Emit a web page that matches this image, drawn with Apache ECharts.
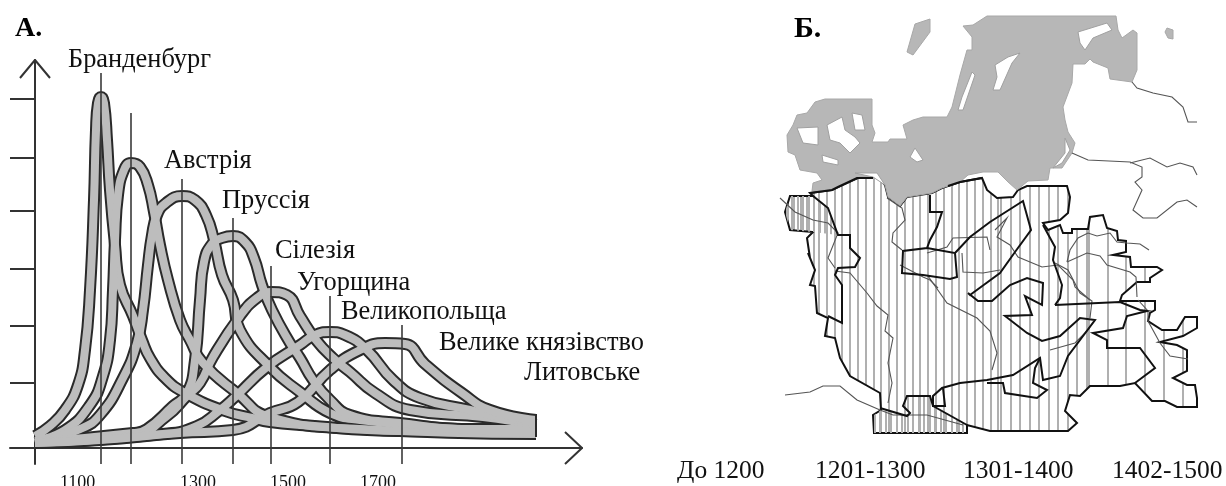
<!DOCTYPE html>
<html><head><meta charset="utf-8">
<style>html,body{margin:0;padding:0;background:#fff}#c{width:1226px;height:486px}</style>
<script src="https://cdn.jsdelivr.net/npm/echarts@6/dist/echarts.min.js"></script>
</head><body><div id="c"></div>
<script>
// ---------- Panel A data (time position, relative level) ----------
const brandenburg=[[0,12],[15,22],[30,38],[43,63],[50,98],[55,158],[59,248],[61,318],[63,345],[66,351],[69,345],[72,308],[75,258],[80,203],[85,163],[98,132],[107,108],[115,90],[130,70],[150,55],[190,37],[217,30],[235,26],[265,23],[365,17],[501,16]];
const austria=[[0,7],[30,18],[55,43],[68,72],[75,108],[78,158],[80,208],[83,253],[89,278],[96,285],[105,281],[113,263],[119,236],[125,203],[133,168],[145,128],[155,108],[168,85],[202,55],[235,31],[325,19],[501,14]];
const prussia=[[0,5],[45,19],[65,33],[88,70],[102,105],[108,138],[113,183],[117,213],[122,233],[131,245],[147,252],[160,248],[171,233],[179,208],[187,173],[198,148],[205,118],[235,81],[265,56],[295,35],[325,28],[435,18],[501,15]];
const silesia=[[0,6],[98,15],[112,19],[138,42],[152,55],[160,88],[165,148],[169,186],[177,204],[187,210],[198,212],[210,206],[219,190],[227,163],[237,138],[255,105],[265,90],[278,68],[295,48],[315,33],[365,25],[435,19],[501,19]];
const hungary=[[0,6],[98,12],[132,32],[152,52],[165,65],[178,91],[205,132],[222,150],[236,156],[252,153],[265,132],[281,108],[298,90],[315,76],[340,55],[375,38],[448,31],[490,25],[501,23]];
const greaterPoland=[[0,5],[128,14],[162,22],[185,38],[200,51],[232,81],[265,103],[280,113],[295,116],[310,113],[332,98],[358,68],[385,50],[435,38],[465,31],[501,26]];
const lithuania=[[0,5],[65,8],[145,15],[198,18],[235,35],[263,46],[295,78],[325,98],[350,105],[370,104],[390,84],[427,55],[455,38],[501,28]];
const curves=[brandenburg,austria,prussia,silesia,hungary,greaterPoland,lithuania];
const peakX=[66,96,147,198,236,295,367];
const peakTop=[375,335,269,230,182,152,123];
const yTicks=[65,122,179,237,290,349];
const xLabels=['1100','1300','1500','1700'];
const xLabelX=[60,180,270,360];
const names=['Бранденбург','Австрія','Пруссія','Сілезія','Угорщина','Великопольща','Велике князівство','Литовське'];
const nameX=[68,164,222,275,297,341,439,524];
const nameY=[60,161,201,251,283,312,343,373];
const legendLabels=['До 1200','1201-1300','1301-1400','1402-1500'];
const legendX=[677,815,963,1112];

// ---------- Panel B map outlines ----------
const seaMain=[[987,16],[1116,16],[1118,30],[1122,38],[1133,30],[1137,33],[1137,70],[1132,82],[1110,79],[1108,68],[1093,62],[1090,59],[1085,64],[1073,64],[1072,83],[1063,107],[1065,120],[1068,132],[1075,143],[1072,153],[1062,168],[1050,168],[1048,180],[1028,181],[1017,190],[1008,182],[998,172],[983,172],[968,175],[960,182],[942,188],[932,193],[907,197],[900,206],[888,197],[885,185],[878,177],[860,177],[838,187],[832,190],[812,191],[813,183],[822,180],[817,173],[800,170],[795,155],[788,152],[787,135],[793,125],[797,115],[807,113],[815,102],[825,99],[872,99],[872,125],[875,133],[872,142],[888,142],[890,139],[907,139],[903,125],[913,120],[923,117],[947,117],[952,107],[960,75],[967,50],[972,50],[972,37],[963,26],[973,25]];
const islandN=[[930,19],[915,24],[907,52],[913,55],[930,32]];
const islandE=[[1167,28],[1173,30],[1173,39],[1168,38],[1165,32]];
const seaHoles=[
 [[1078,32],[1107,23],[1112,30],[1093,38],[1085,50],[1080,43]],
 [[995,65],[1008,57],[1020,53],[1012,63],[1000,90],[993,90],[997,77]],
 [[972,72],[975,75],[963,110],[958,110],[962,97]],
 [[827,125],[842,117],[845,130],[855,137],[860,143],[850,153],[840,143],[830,140]],
 [[797,128],[818,127],[818,145],[803,143]],
 [[852,113],[862,115],[865,130],[855,130]],
 [[822,155],[838,160],[838,165],[823,162]],
 [[910,157],[915,148],[923,160],[917,162]],
 [[1065,138],[1070,150],[1062,163],[1053,168],[1065,153]],
 [[855,173],[877,173],[885,185],[873,177]]
];
const territory=[[790,196],[813,196],[810,193],[832,190],[838,187],[860,177],[878,177],[885,185],[888,197],[900,206],[907,197],[932,193],[942,188],[960,182],[982,178],[987,190],[997,198],[1013,197],[1018,190],[1027,186],[1067,186],[1070,197],[1068,213],[1060,220],[1043,223],[1048,230],[1060,225],[1063,233],[1072,233],[1072,229],[1088,229],[1090,217],[1103,215],[1107,228],[1117,231],[1118,240],[1126,241],[1126,252],[1113,255],[1130,257],[1131,267],[1157,267],[1162,270],[1150,278],[1150,282],[1137,282],[1122,295],[1120,301],[1155,301],[1155,310],[1150,313],[1148,321],[1162,330],[1177,330],[1185,317],[1197,317],[1197,328],[1183,336],[1160,342],[1177,345],[1187,350],[1187,371],[1173,378],[1187,385],[1195,385],[1197,398],[1197,407],[1177,407],[1165,401],[1152,401],[1135,383],[1120,386],[1090,386],[1080,396],[1070,395],[1065,411],[1077,423],[1068,431],[1045,431],[990,431],[967,425],[967,433],[874,433],[873,415],[881,410],[880,393],[850,376],[840,358],[835,338],[825,336],[828,318],[817,313],[815,286],[810,285],[815,270],[808,253],[810,258],[807,238],[813,232],[790,230],[785,212]];
const denseWest=[[790,196],[813,196],[828,208],[838,235],[813,232],[790,230],[785,212]];
const denseSouth=[[874,415],[881,410],[907,416],[910,413],[903,406],[907,396],[930,396],[933,406],[967,425],[967,433],[874,433]];
const borders=[
 [[810,193],[832,190],[838,187],[857,178],[873,178]],
 [[948,186],[960,182],[982,178]],
 [[813,196],[828,208],[838,235],[850,235],[850,248],[860,258],[855,267],[838,268],[835,275],[842,285],[842,323],[828,316]],
 [[930,195],[930,212],[942,212],[937,227],[930,240],[927,248],[903,251],[902,273],[923,275],[950,279],[957,277],[955,253],[927,248]],
 [[955,253],[970,237],[990,222],[1023,201],[1031,230],[1015,252],[1000,273],[970,295],[968,293],[978,301],[992,301],[1010,285],[1027,278],[1043,283],[1042,305],[1025,296],[1032,315],[1005,316],[1027,333],[1042,341],[1060,336],[1080,318],[1095,320],[1068,356],[1060,376],[1043,380],[1040,358],[1013,375],[987,380],[960,383],[942,388],[933,396],[933,406],[945,406],[943,388]],
 [[933,406],[967,425]],
 [[880,408],[907,416],[910,413],[903,406],[907,396],[930,396],[933,406]],
 [[987,383],[1003,383],[1005,393],[1037,398],[1047,390],[1033,383],[1035,368],[1040,358]],
 [[1055,305],[1120,302],[1140,310],[1147,311],[1127,316],[1123,328],[1093,333],[1107,340],[1107,348],[1140,348],[1155,368],[1135,383]],
 [[1043,225],[1055,247],[1053,260],[1062,285],[1060,298],[1055,305]]
];
const rivers=[
 [[785,395],[810,392],[823,386],[840,386],[857,400],[880,410],[893,415],[927,415],[963,425]],
 [[835,271],[850,273],[867,293],[877,306],[888,315],[885,331],[893,338],[888,363],[892,383],[888,403]],
 [[928,276],[947,303],[977,318],[990,331],[997,353],[992,370]],
 [[780,198],[795,212],[813,220],[828,223],[838,233],[828,258],[835,268]],
 [[887,198],[902,208],[905,220],[893,233],[892,242],[902,250]],
 [[900,265],[923,277],[930,280],[938,288]],
 [[927,253],[947,247],[953,238],[987,237],[990,250]],
 [[962,253],[963,272],[983,273],[1000,270]],
 [[995,230],[1007,218],[997,237],[1010,245],[1018,257],[1042,267],[1058,265],[1073,280],[1075,287],[1090,300]],
 [[1067,262],[1070,250],[1078,238],[1088,233],[1097,236],[1110,233],[1117,242],[1127,243],[1140,244],[1149,250]],
 [[1067,262],[1087,253],[1100,256],[1107,265],[1130,272],[1136,277],[1137,297]],
 [[1055,263],[1068,270],[1080,293],[1092,301],[1090,318]],
 [[1095,320],[1087,331],[1075,343],[1050,350]],
 [[1138,300],[1148,311],[1148,321],[1160,343],[1170,356],[1188,359]],
 [[1132,82],[1137,88],[1153,93],[1172,97],[1183,107],[1188,122],[1197,122]],
 [[1072,153],[1088,160],[1130,162],[1142,167],[1142,177],[1135,182],[1142,190],[1133,210],[1143,218],[1157,218],[1177,202],[1187,200],[1197,207]],
 [[1130,163],[1150,158],[1167,167],[1180,163],[1193,167],[1197,175]]
];
const stripeZones=[[780,818,6.5],[818,1000,7.8],[1000,1088,9.5],[1088,1226,18.7]];

function stripes(zones,w){
  const c=document.createElement('canvas');c.width=1226;c.height=4;
  const g=c.getContext('2d');g.fillStyle='#b0b0b0';
  zones.forEach(z=>{for(let x=z[0];x<z[1];x+=z[2])g.fillRect(Math.round(x),0,w,4);});
  return c;
}
const mainPattern={image:stripes(stripeZones,2),repeat:'repeat'};
const densePattern={image:stripes([[780,1000,5.5]],2),repeat:'repeat'};

function shapes(list,style,closed,z){
  return {type:'custom',xAxisIndex:1,yAxisIndex:1,silent:true,clip:false,z:z,
    data:list.map((_,i)=>[i]),
    renderItem:(p,api)=>({type:closed?'polygon':'polyline',
      shape:{points:list[p.dataIndex].map(q=>api.coord(q))},style:Object.assign({},style)})};
}
const lineSer=(data,color,width,z,smooth)=>({type:'line',xAxisIndex:0,yAxisIndex:0,data,showSymbol:false,symbol:'none',silent:true,clip:false,smooth:smooth||false,smoothMonotone:null,z,
  lineStyle:{color,width,cap:'butt',join:'round'}});

const series=[];
curves.forEach(c=>series.push(lineSer(c,'#2a2a2a',12,2,0.5)));
curves.forEach(c=>series.push(lineSer(c,'#bdbdbd',8,3,0.5)));
peakX.forEach((x,i)=>series.push(lineSer([[x,-16],[x,peakTop[i]]],'#3a3a3a',1.6,4)));
series.push(lineSer([[501,34],[501,11]],'#2a2a2a',2,4));
series.push(lineSer([[-15,370],[0,388],[15,370]],'#333',2,4));
series.push(lineSer([[530,16],[547,0],[530,-16]],'#333',2,4));
series.push(shapes([territory],{fill:mainPattern,stroke:'#111',lineWidth:2},true,2));
series.push(shapes([denseWest,denseSouth],{fill:densePattern,stroke:null},true,2));
series.push(shapes([seaMain,islandN,islandE],{fill:'#b7b7b7',stroke:'#a8a8a8',lineWidth:1},true,3));
series.push(shapes(seaHoles,{fill:'#fff',stroke:'#a0a0a0',lineWidth:1},true,3));
series.push(shapes(rivers,{fill:null,stroke:'#555',lineWidth:1.1},false,4));
series.push(shapes(borders,{fill:null,stroke:'#111',lineWidth:2},false,5));

const serif='"Liberation Serif",serif';
const graphic=[];
names.forEach((n,i)=>graphic.push({type:'text',silent:true,style:{text:n,x:nameX[i],y:nameY[i],font:'26.4px '+serif,fill:'#111',textVerticalAlign:'middle'}}));
legendLabels.forEach((n,i)=>graphic.push({type:'text',silent:true,style:{text:n,x:legendX[i],y:471,font:'25.5px '+serif,fill:'#111',textVerticalAlign:'middle'}}));
xLabels.forEach((n,i)=>graphic.push({type:'text',silent:true,style:{text:n,x:xLabelX[i],y:483,font:'18px '+serif,fill:'#111',textVerticalAlign:'middle'}}));
graphic.push({type:'text',silent:true,style:{text:'А.',x:15,y:29,font:'bold 28px '+serif,fill:'#000',textVerticalAlign:'middle'}});
graphic.push({type:'text',silent:true,style:{text:'Б.',x:794,y:29,font:'bold 30px '+serif,fill:'#000',textVerticalAlign:'middle'}});

const chart=echarts.init(document.getElementById('c'),null,{renderer:'canvas'});
chart.setOption({
  animation:false,backgroundColor:'#fff',
  grid:[{left:10,top:60,width:572,height:404,outerBoundsMode:'none'},{left:0,top:0,width:1226,height:486,outerBoundsMode:'none'}],
  xAxis:[{type:'value',min:-25,max:547,gridIndex:0,splitLine:{show:false},
      axisLine:{show:true,onZero:true,lineStyle:{color:'#333',width:2}},axisTick:{show:false},axisLabel:{show:false}},
    {type:'value',min:0,max:1226,gridIndex:1,show:false}],
  yAxis:[{type:'value',min:-16,max:388,gridIndex:0,splitLine:{show:false},
      axisLine:{show:true,onZero:true,lineStyle:{color:'#333',width:2}},
      axisTick:{show:true,length:25,customValues:yTicks,lineStyle:{color:'#333',width:2}},axisLabel:{show:false}},
    {type:'value',min:0,max:486,inverse:true,gridIndex:1,show:false}],
  graphic:graphic,
  series:series
});
</script></body></html>
